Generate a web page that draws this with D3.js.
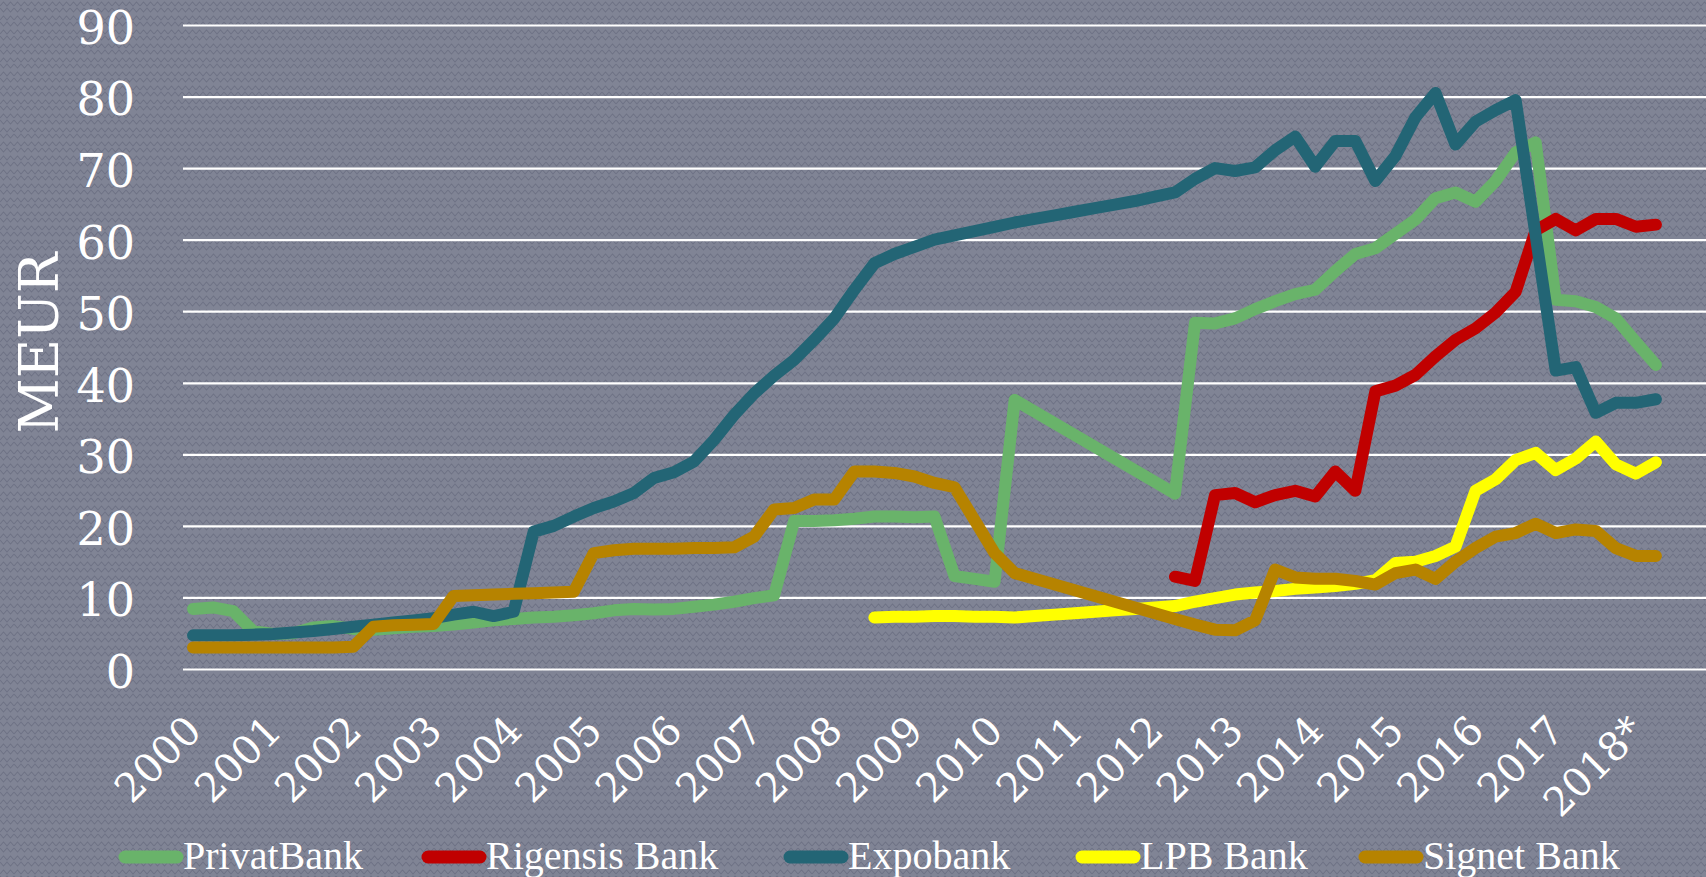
<!DOCTYPE html>
<html>
<head>
<meta charset="utf-8">
<script src="https://cdnjs.cloudflare.com/ajax/libs/d3/7.8.5/d3.min.js"></script>
<style>
body{margin:0;background:#7e8293;overflow:hidden;}
</style>
</head>
<body>
<div id="graphHolder"></div>
<script>
// quarterly categories, 2000Q1 .. 2018Q4 (last two quarters empty)
var quarters = [];
for (var yr=2000;yr<=2018;yr++){
	for (var q=1;q<=4;q++) quarters.push(yr+"Q"+q);
}
var yearLabels = ["2000","2001","2002","2003","2004","2005","2006","2007","2008","2009",
	"2010","2011","2012","2013","2014","2015","2016","2017","2018*"];
var yTicks = [0,10,20,30,40,50,60,70,80,90];

// MEUR, one value per quarter from 2000Q1 (null = no value)
var privatBank = [8.4,8.6,8.1,5.3,4.9,5.0,5.8,6.0,5.6,5.5,
	5.7,5.9,6.0,6.2,6.5,6.8,7.0,7.2,7.3,7.5,
	7.8,8.2,8.4,8.3,8.4,8.7,9.0,9.4,9.9,10.3,
	20.7,20.7,20.8,21.0,21.3,21.3,21.2,21.3,13.0,12.6,
	12.2,37.6,null,null,null,null,null,null,null,24.5,
	48.4,48.3,49.0,50.3,51.4,52.4,53.0,55.6,58.0,58.8,
	60.8,62.8,65.8,66.6,65.3,68.2,72.2,73.6,51.6,51.4,
	50.6,49.0,45.7,42.5];
var rigensisStart = 49;
var rigensis = [12.9,12.3,24.3,24.6,23.3,24.3,24.9,24.1,27.6,24.9,
	38.8,39.6,41.1,43.7,46.0,47.6,49.8,52.7,61.3,62.9,
	61.3,62.9,62.9,61.8,62.1];
var expobank = [4.7,4.7,4.7,4.8,4.9,5.1,5.3,5.6,5.9,6.2,
	6.5,6.8,7.1,7.6,8.0,7.4,8.0,19.2,20.0,21.3,
	22.5,23.4,24.6,26.7,27.5,29.0,32.0,35.5,38.5,41.0,
	43.2,46.0,49.0,53.0,56.7,58.0,59.0,60.0,60.6,61.2,
	61.8,62.4,62.9,63.4,63.9,64.4,64.9,65.4,66.0,66.6,
	68.5,70.0,69.6,70.1,72.5,74.4,70.2,73.8,73.8,68.2,
	71.7,77.1,80.5,73.3,76.5,78.1,79.5,60.6,41.7,42.2,
	35.8,37.2,37.2,37.7];
var lpbStart = 34;
var lpb = [7.2,7.3,7.3,7.4,7.4,7.3,7.3,7.2,7.4,7.6,
	7.8,8.0,8.2,8.4,8.6,8.8,9.4,9.9,10.4,10.7,
	10.9,11.2,11.4,11.6,11.9,12.4,14.8,15.0,15.8,17.1,
	24.9,26.5,29.2,30.2,27.8,29.4,31.8,28.6,27.3,28.9];
var signet = [3.0,3.0,3.0,3.0,3.0,3.0,3.0,3.0,3.1,5.9,
	6.1,6.2,6.3,10.2,10.3,10.4,10.5,10.6,10.7,10.8,
	16.2,16.6,16.8,16.8,16.8,16.9,16.9,17.0,18.5,22.3,
	22.5,23.7,23.7,27.6,27.6,27.4,26.9,26.0,25.4,20.8,
	16.2,13.4,12.6,11.8,11.0,10.2,9.4,8.6,7.8,7.0,
	6.2,5.5,5.4,6.8,13.9,12.8,12.6,12.6,12.3,11.8,
	13.4,13.9,12.6,15.0,16.9,18.5,19.0,20.3,19.0,19.5,
	19.3,16.9,15.8,15.8];

var series = [
	{name:"PrivatBank", color:"#69b36a", start:0, values:privatBank},
	{name:"Rigensis Bank", color:"#c00000", start:rigensisStart, values:rigensis},
	{name:"Expobank", color:"#236575", start:0, values:expobank},
	{name:"LPB Bank", color:"#ffff00", start:lpbStart, values:lpb},
	{name:"Signet Bank", color:"#b68300", start:0, values:signet}
];

var W = 1706, H = 877;
var plotLeft = 183, plotRight = 1706, plotTop = 25, plotBottom = 669;
var numFont = "'DejaVu Serif', serif";
var textFont = "'Liberation Serif', serif";

var svg = d3.select("#graphHolder")
	.append("svg")
	.attr("width",W)
	.attr("height",H);

// patterned backdrop (small diamond weave)
var defs = svg.append("defs");
var pat = defs.append("pattern")
	.attr("id","bgPat")
	.attr("patternUnits","userSpaceOnUse")
	.attr("width",14)
	.attr("height",14);
pat.append("rect").attr("width",14).attr("height",14).attr("fill","#808495");
pat.append("path")
	.attr("d","M0,6 L3.5,2 L7,6 L10.5,2 L14,6 M0,8 L3.5,12 L7,8 L10.5,12 L14,8")
	.attr("fill","none")
	.attr("stroke","#6e7285")
	.attr("stroke-width",1.1);
svg.append("rect").attr("width",W).attr("height",H).attr("fill","url(#bgPat)");

var x = d3.scalePoint()
	.domain(quarters)
	.range([plotLeft,plotRight])
	.padding(0.5);
var y = d3.scaleLinear()
	.domain([0,90])
	.range([plotBottom,plotTop]);

// gridlines + y labels
var y_axis = d3.axisLeft(y)
	.tickValues(yTicks)
	.tickSize(-(plotRight-plotLeft))
	.tickPadding(48)
	.tickFormat(d3.format("d"));
var gy = svg.append("g")
	.attr("transform","translate("+plotLeft+",0)")
	.call(y_axis);
gy.select(".domain").remove();
gy.selectAll(".tick line")
	.attr("stroke","#ffffff")
	.attr("stroke-width",2.2);
gy.selectAll(".tick text")
	.attr("fill","#ffffff")
	.attr("dy","0.4em")
	.style("font-family",numFont)
	.style("font-size","46px");

// x labels, one per year (every 4th quarter)
var labelQuarters = yearLabels.map(function(l,i){ return quarters[i*4]; });
var x_axis = d3.axisBottom(x)
	.tickValues(labelQuarters)
	.tickSize(0)
	.tickFormat(function(d,i){ return yearLabels[i]; });
var gx = svg.append("g")
	.attr("transform","translate(0,"+plotBottom+")")
	.call(x_axis);
gx.select(".domain").remove();
gx.selectAll(".tick text")
	.attr("fill","#ffffff")
	.attr("text-anchor","end")
	.attr("y",0)
	.attr("dy",0)
	.attr("transform","translate(10,64) rotate(-45)")
	.style("font-family",numFont)
	.style("font-size","40px");

svg.append("text")
	.text("MEUR")
	.attr("fill","#ffffff")
	.attr("text-anchor","middle")
	.attr("transform","translate(58,343) rotate(-90)")
	.style("font-family",numFont)
	.style("font-size","54px");

// lines
var line = d3.line()
	.x(function(d){ return x(quarters[d.i]); })
	.y(function(d){ return y(d.v); });

svg.selectAll(".bankLine")
	.data(series)
	.enter()
	.append("path")
	.attr("class","bankLine")
	.attr("d",function(s){
		var pts = s.values.map(function(v,k){ return {i:s.start+k, v:v}; })
			.filter(function(d){ return d.v != null; });
		return line(pts);
	})
	.attr("fill","none")
	.attr("stroke",function(s){ return s.color; })
	.attr("stroke-width",12)
	.attr("stroke-linejoin","round")
	.attr("stroke-linecap","round");

// legend
var legendX = [119,422,784,1076,1359];
var legendY = 857;
var leg = svg.selectAll(".leg")
	.data(series)
	.enter()
	.append("g")
	.attr("class","leg")
	.attr("transform",function(s,i){ return "translate("+legendX[i]+","+legendY+")"; });
leg.append("line")
	.attr("x1",6).attr("x2",58)
	.attr("y1",0).attr("y2",0)
	.attr("stroke",function(s){ return s.color; })
	.attr("stroke-width",13)
	.attr("stroke-linecap","round");
leg.append("text")
	.text(function(s){ return s.name; })
	.attr("x",64)
	.attr("y",12)
	.attr("fill","#ffffff")
	.style("font-family",textFont)
	.style("font-size","40px");
</script>
</body>
</html>
